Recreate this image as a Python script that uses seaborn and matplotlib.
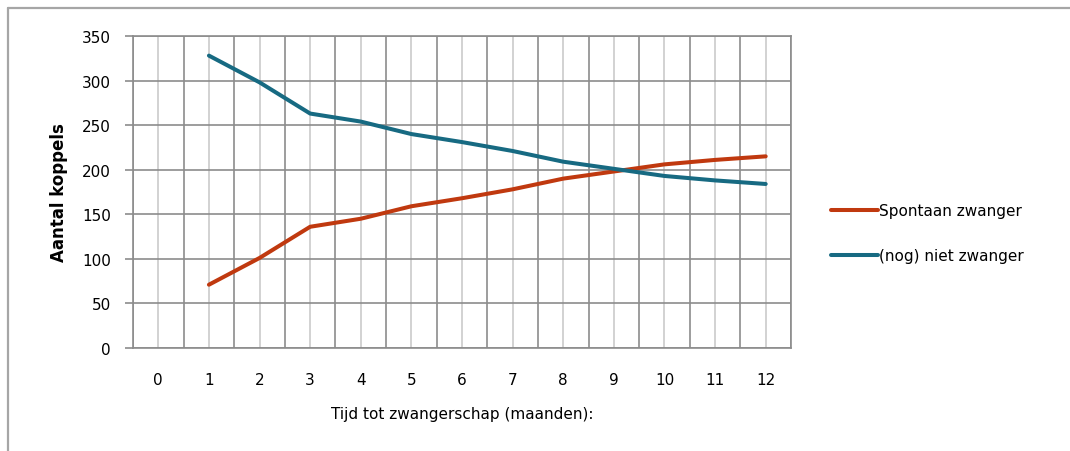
# zwangerschap_chart.py

# ====== IMPORTS ======
import pandas as pd
import seaborn as sns
import matplotlib.pyplot as plt
from matplotlib.lines import Line2D

# ====== DATA ======
maanden = list(range(13))
tick_labels = [str(m) for m in maanden]
spontaan = [None, 71, 101, 136, 145, 159, 168, 178, 190, 198, 206, 211, 215]
niet_zwanger = [None, 328, 298, 263, 254, 240, 231, 221, 209, 201, 193, 188, 184]
series_names = ["Spontaan zwanger", "(nog) niet zwanger"]

df = pd.DataFrame({
    "maand": maanden * 2,
    "aantal": spontaan + niet_zwanger,
    "serie": [series_names[0]] * 13 + [series_names[1]] * 13,
}).dropna()

# ====== STYLE ======
sns.set_style("white")
plt.rcParams["font.family"] = ["DejaVu Sans"]
plt.rcParams["text.color"] = "black"
plt.rcParams["axes.labelcolor"] = "black"
plt.rcParams["xtick.labelcolor"] = "black"
plt.rcParams["ytick.labelcolor"] = "black"
dark = "#8c8c8c"
light = "#cbcbcb"
colors = {series_names[0]: "#c0390f", series_names[1]: "#176a82"}

fig = plt.figure(figsize=(10.70, 4.52), dpi=100)
ax = fig.add_axes([133 / 1070, 1 - 349 / 452, (791 - 133) / 1070, (349 - 37) / 452])

# outer chart border (top + left only visible)
fig.add_artist(Line2D([8 / 1070, 1.0], [1 - 9 / 452] * 2, color="#a6a6a6", lw=1.6,
                      transform=fig.transFigure))
fig.add_artist(Line2D([8 / 1070] * 2, [0, 1 - 9 / 452], color="#a6a6a6", lw=1.6,
                      transform=fig.transFigure))

# ====== PLOT ======
sns.lineplot(data=df, x="maand", y="aantal", hue="serie", palette=colors,
             linewidth=2.9, ax=ax, legend=True, zorder=5)

ax.set_xlim(-0.5, 12.5)
ax.set_ylim(0, 350)

# x axis: labels in category centres, dark lines at boundaries
ax.set_xticks(maanden)
ax.set_xticklabels(tick_labels)
ax.set_xticks([m - 0.5 for m in maanden] + [12.5], minor=True)
ax.tick_params(axis="x", which="major", length=0, pad=17, labelsize=11)
ax.tick_params(axis="x", which="minor", length=6, width=1.2, color=dark, direction="out")
ax.grid(axis="x", which="major", color=light, lw=1.2)
ax.grid(axis="x", which="minor", color=dark, lw=1.2)

# y axis
ax.set_yticks(range(0, 351, 50))
ax.tick_params(axis="y", length=6, width=1.2, color=dark, pad=10, labelsize=11, left=True)
ax.grid(axis="y", color=dark, lw=1.2)

for s in ax.spines.values():
    s.set_color(dark)
    s.set_linewidth(1.2)

ax.set_xlabel("Tijd tot zwangerschap (maanden):", fontsize=11, labelpad=14)
ax.set_ylabel("Aantal koppels", fontsize=12, fontweight="bold", labelpad=10)

handles, labels = ax.get_legend_handles_labels()
ax.legend(handles, labels, loc="center left", bbox_to_anchor=(823 / 1070, 1 - 234 / 452),
          bbox_transform=fig.transFigure, frameon=False, fontsize=11,
          handlelength=3.1, handletextpad=0.05, labelspacing=1.95, borderpad=0)

plt.savefig("out.png", dpi=100)
plt.close()
